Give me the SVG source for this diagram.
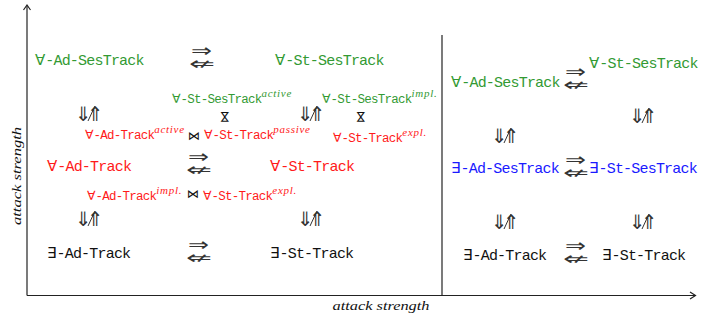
<svg xmlns="http://www.w3.org/2000/svg" width="725" height="320" viewBox="0 0 725 320">
<defs>
<style>
.t{font-family:"Liberation Mono","DejaVu Sans Mono",monospace;font-size:15px;letter-spacing:-0.8px}
.s{font-family:"Liberation Mono","DejaVu Sans Mono",monospace;font-size:12.5px;letter-spacing:-0.75px}
.q{font-family:"DejaVu Sans",sans-serif;letter-spacing:0}
.sup{font-family:"Liberation Serif",serif;font-style:italic;font-size:11px;letter-spacing:0.7px}
.g{fill:#339a33}.r{fill:#ff1a1a}.b{fill:#1a1aff}.k{fill:#111}
.ar{font-family:"DejaVu Sans",sans-serif;font-size:18px;fill:#333}
.va{font-family:"DejaVu Sans",sans-serif;font-size:20px;fill:#333}
.sl{stroke:#333;stroke-width:1;fill:none}
.bt{font-family:"DejaVu Sans",sans-serif;font-size:12px;fill:#111}
.ax{stroke:#222;stroke-width:1.2;fill:none}
.lab{font-family:"Liberation Serif",serif;font-style:italic;font-size:13px;fill:#111}
</style>
<g id="hz">
<text class="ar" x="0" y="0" textLength="21" lengthAdjust="spacingAndGlyphs">⇒</text>
<text class="ar" x="-2" y="13" textLength="26" lengthAdjust="spacingAndGlyphs">⇍</text>
</g>
<g id="vt">
<text class="va" x="0" y="0">⇓</text>
<text class="va" x="12" y="0">⇑</text>
<line class="sl" x1="13" y1="0" x2="20" y2="-15"/>
</g>
</defs>
<g id="axes">
<line class="ax" x1="27" y1="295.5" x2="27" y2="6"/>
<path class="ax" d="M23.5,10 L27,5 L30.5,10"/>
<line class="ax" x1="27" y1="295.5" x2="695" y2="295.5"/>
<path class="ax" d="M690,292 L695.5,295.5 L690,299"/>
<line class="ax" x1="442" y1="35" x2="442" y2="295.5"/>
<text class="lab" x="381" y="310" text-anchor="middle" textLength="97" lengthAdjust="spacingAndGlyphs">attack strength</text>
<text class="lab" transform="translate(21,176) rotate(-90)" text-anchor="middle" textLength="98" lengthAdjust="spacingAndGlyphs">attack strength</text>
</g>
<g id="n1"><text class="t g" x="35" y="65"><tspan class="q">∀</tspan>-Ad-SesTrack</text></g>
<g id="n2"><text class="t g" x="275" y="65"><tspan class="q">∀</tspan>-St-SesTrack</text></g>
<g id="n3"><text class="s g" x="172" y="103"><tspan class="q">∀</tspan>-St-SesTrack<tspan class="sup" dy="-6">active</tspan></text></g>
<g id="n4"><text class="s g" x="322" y="103"><tspan class="q">∀</tspan>-St-SesTrack<tspan class="sup" dy="-6">impl.</tspan></text></g>
<g id="n5"><text class="s r" x="85" y="139"><tspan class="q">∀</tspan>-Ad-Track<tspan class="sup" dy="-6">active</tspan></text></g>
<g id="n6"><text class="s r" x="204" y="139"><tspan class="q">∀</tspan>-St-Track<tspan class="sup" dy="-6">passive</tspan></text></g>
<g id="n7"><text class="s r" x="333" y="142"><tspan class="q">∀</tspan>-St-Track<tspan class="sup" dy="-6">expl.</tspan></text></g>
<g id="n8"><text class="t r" x="47" y="171"><tspan class="q">∀</tspan>-Ad-Track</text></g>
<g id="n9"><text class="t r" x="270" y="171"><tspan class="q">∀</tspan>-St-Track</text></g>
<g id="n10"><text class="s r" x="87" y="200"><tspan class="q">∀</tspan>-Ad-Track<tspan class="sup" dy="-6">impl.</tspan></text></g>
<g id="n11"><text class="s r" x="203" y="200"><tspan class="q">∀</tspan>-St-Track<tspan class="sup" dy="-6">expl.</tspan></text></g>
<g id="n12"><text class="t k" x="47" y="258"><tspan class="q">∃</tspan>-Ad-Track</text></g>
<g id="n13"><text class="t k" x="270" y="258"><tspan class="q">∃</tspan>-St-Track</text></g>
<g id="n14"><text class="t g" x="451" y="87"><tspan class="q">∀</tspan>-Ad-SesTrack</text></g>
<g id="n15"><text class="t g" x="589" y="68"><tspan class="q">∀</tspan>-St-SesTrack</text></g>
<g id="n16"><text class="t b" x="451" y="173"><tspan class="q">∃</tspan>-Ad-SesTrack</text></g>
<g id="n17"><text class="t b" x="589" y="173"><tspan class="q">∃</tspan>-St-SesTrack</text></g>
<g id="n18"><text class="t k" x="463" y="260"><tspan class="q">∃</tspan>-Ad-Track</text></g>
<g id="n19"><text class="t k" x="602" y="260"><tspan class="q">∃</tspan>-St-Track</text></g>
<g id="connectors">
<use href="#hz" x="191" y="57"/>
<use href="#hz" x="188" y="163"/>
<use href="#hz" x="188" y="251"/>
<use href="#hz" x="565" y="78"/>
<use href="#hz" x="565" y="166"/>
<use href="#hz" x="565" y="252"/>
<use href="#vt" x="75" y="121"/>
<use href="#vt" x="297" y="121"/>
<use href="#vt" x="75" y="226"/>
<use href="#vt" x="297" y="226"/>
<use href="#vt" x="491" y="143"/>
<use href="#vt" x="629" y="123"/>
<use href="#vt" x="491" y="229"/>
<use href="#vt" x="629" y="229"/>
<text class="bt" transform="translate(225,117) rotate(90)" text-anchor="middle" dy="4">⋈</text>
<text class="bt" transform="translate(361,117) rotate(90)" text-anchor="middle" dy="4">⋈</text>
<text class="bt" x="194" y="140" text-anchor="middle">⋈</text>
<text class="bt" x="193" y="198" text-anchor="middle">⋈</text>
</g>
</svg>
